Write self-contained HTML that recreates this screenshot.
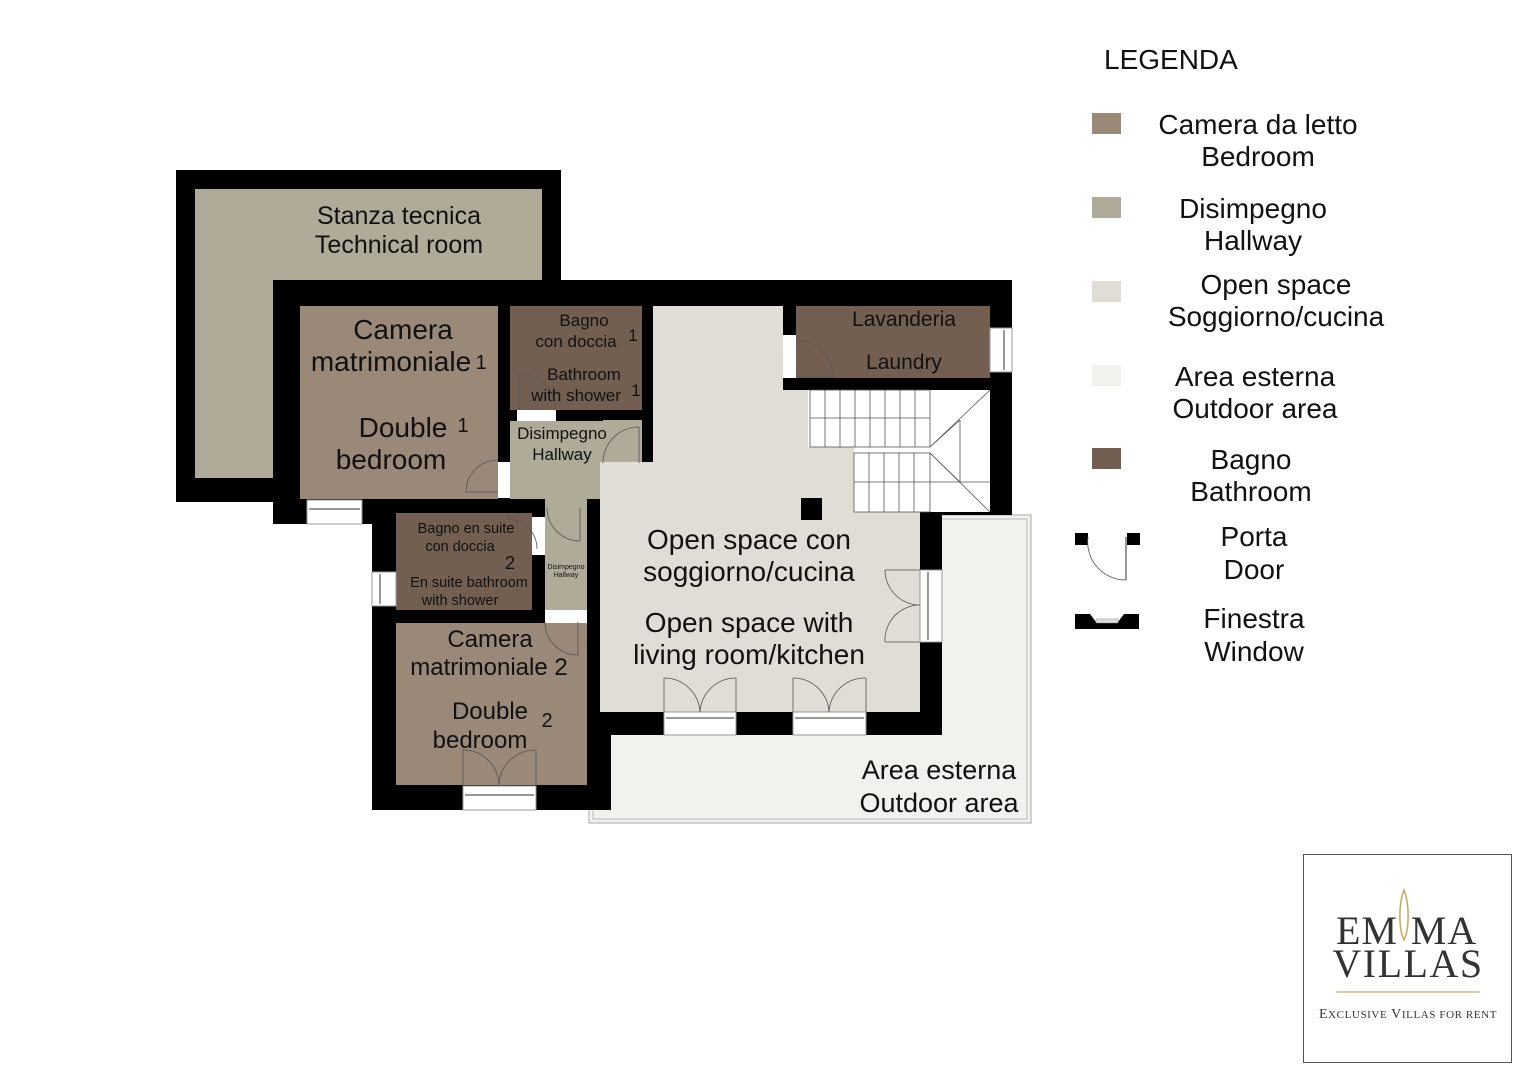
<!DOCTYPE html>
<html><head><meta charset="utf-8"><style>
html,body{margin:0;padding:0;background:#fff;}
body{width:1527px;height:1080px;position:relative;overflow:hidden;font-family:"Liberation Sans",sans-serif;}
svg text{font-family:"Liberation Sans",sans-serif;fill:#111;}
</style></head><body>
<svg width="1527" height="1080" viewBox="0 0 1527 1080" xmlns="http://www.w3.org/2000/svg">
<rect x="589" y="515" width="442" height="308" fill="#f2f1ee" stroke="#aaa" stroke-width="1"/>
<rect x="593" y="519" width="434" height="300" fill="none" stroke="#bbb" stroke-width="1"/>
<rect x="176" y="170" width="385" height="332" fill="#000"/>
<rect x="195" y="189" width="347" height="289" fill="#b0aa98"/>
<polygon points="273,280 1012,280 1012,515 942,515 942,735 611,735 611,810 372,810 372,524 273,524" fill="#000"/>
<rect x="300" y="306" width="198" height="193" fill="#9a8878"/>
<rect x="510" y="306" width="132" height="104" fill="#735f52"/>
<rect x="510" y="421" width="132" height="78" fill="#b0aa98"/>
<rect x="545" y="499" width="42" height="111" fill="#b0aa98"/>
<rect x="653" y="306" width="130" height="170" fill="#e0dcd6"/>
<rect x="600" y="462" width="320" height="250" fill="#e0dcd6"/>
<rect x="783" y="390" width="137" height="125" fill="#e0dcd6"/>
<rect x="808" y="390" width="182" height="122" fill="#fff"/>
<rect x="808" y="447" width="46" height="65" fill="#e0dcd6"/>
<rect x="796" y="306" width="194" height="72" fill="#735f52"/>
<rect x="396" y="513" width="136" height="97" fill="#735f52"/>
<rect x="396" y="623" width="191" height="162" fill="#9a8878"/>
<rect x="801" y="498" width="21" height="22" fill="#000"/>
<g stroke="#555" stroke-width="0.8" fill="none">
<rect x="810" y="390" width="120" height="57"/>
<line x1="810" y1="418" x2="930" y2="418"/>
<line x1="825" y1="390" x2="825" y2="447"/><line x1="840" y1="390" x2="840" y2="447"/><line x1="855" y1="390" x2="855" y2="447"/><line x1="870" y1="390" x2="870" y2="447"/><line x1="885" y1="390" x2="885" y2="447"/><line x1="900" y1="390" x2="900" y2="447"/><line x1="915" y1="390" x2="915" y2="447"/>
<rect x="854" y="453" width="76" height="59"/>
<line x1="854" y1="482" x2="990" y2="482"/>
<line x1="869" y1="453" x2="869" y2="512"/><line x1="884" y1="453" x2="884" y2="512"/><line x1="899" y1="453" x2="899" y2="512"/><line x1="914" y1="453" x2="914" y2="512"/>
<line x1="930" y1="447" x2="990" y2="390"/><line x1="930" y1="453" x2="990" y2="512"/>
<line x1="930" y1="447" x2="960" y2="420"/><line x1="960" y1="420" x2="960" y2="482"/><line x1="930" y1="453" x2="960" y2="482"/>
</g>
<g fill="#fff" stroke="#999" stroke-width="1">
<rect x="307" y="500" width="55" height="24"/>
<rect x="372" y="572" width="24" height="34"/>
<rect x="990" y="328" width="22" height="44"/>
<rect x="463" y="786" width="73" height="24"/>
<rect x="664" y="712" width="72" height="23"/>
<rect x="793" y="712" width="73" height="23"/>
<rect x="920" y="570" width="22" height="72"/>
</g>
<g stroke="#999" stroke-width="2">
<line x1="309" y1="509" x2="360" y2="509"/><line x1="465" y1="795" x2="534" y2="795"/>
<line x1="666" y1="718" x2="734" y2="718"/><line x1="795" y1="718" x2="864" y2="718"/>
<line x1="928" y1="572" x2="928" y2="640"/><line x1="1004" y1="330" x2="1004" y2="370"/><line x1="380" y1="574" x2="380" y2="604"/>
</g>
<g fill="#fff">
<rect x="517" y="410" width="39" height="11"/>
<rect x="498" y="462" width="12" height="36"/>
<rect x="783" y="335" width="13" height="43"/>
<rect x="532" y="517" width="13" height="38"/>
<rect x="545" y="610" width="42" height="13"/>
<rect x="603" y="420" width="39" height="11" fill="#b0aa98"/>
</g>
<g fill="none" stroke="#555" stroke-width="0.8">
<path d="M466,492 A32,32 0 0 1 498,460"/><line x1="466" y1="492" x2="498" y2="492"/>
<path d="M519,374 A37,37 0 0 1 556,411"/><line x1="519" y1="374" x2="519" y2="410"/>
<path d="M603,463 A36,36 0 0 1 639,427"/><line x1="639" y1="427" x2="639" y2="463"/>
<path d="M796,340 A37,37 0 0 1 833,377"/><line x1="796" y1="377" x2="833" y2="377"/>
<path d="M547,508 A33,33 0 0 0 580,541"/><line x1="580" y1="508" x2="580" y2="541"/>
<path d="M507,519 A30,30 0 0 1 537,549"/>
<path d="M545,622 A33,33 0 0 0 578,655"/><line x1="578" y1="622" x2="578" y2="655"/>
<path d="M664,678 L664,712 M664,678 A36,36 0 0 1 700,712 M736,678 L736,712 M736,678 A36,36 0 0 0 700,712"/>
<path d="M793,678 L793,712 M793,678 A36,36 0 0 1 829,712 M866,678 L866,712 M866,678 A36,36 0 0 0 829,712"/>
<path d="M463,750 L463,786 M463,750 A36,36 0 0 1 499,786 M536,750 L536,786 M536,750 A36,36 0 0 0 499,786"/>
<path d="M885,570 L920,570 M885,570 A35,35 0 0 0 920,605 M885,642 L920,642 M885,642 A35,35 0 0 1 920,605"/>
</g>
<g text-anchor="middle">
<text x="399" y="224" font-size="25">Stanza tecnica</text>
<text x="399" y="253" font-size="25">Technical room</text>
<text x="403" y="339" font-size="28">Camera</text>
<text x="391" y="371" font-size="28">matrimoniale</text>
<text x="481" y="369" font-size="20">1</text>
<text x="403" y="437" font-size="28">Double</text>
<text x="463" y="432" font-size="20">1</text>
<text x="391" y="469" font-size="28">bedroom</text>
<text x="584" y="326" font-size="17">Bagno</text>
<text x="576" y="347" font-size="17">con doccia</text>
<text x="633" y="341" font-size="17">1</text>
<text x="584" y="380" font-size="17">Bathroom</text>
<text x="576" y="401" font-size="17">with shower</text>
<text x="636" y="396" font-size="17">1</text>
<text x="562" y="439" font-size="17">Disimpegno</text>
<text x="562" y="460" font-size="17">Hallway</text>
<text x="466" y="533" font-size="14.5">Bagno en suite</text>
<text x="460" y="551" font-size="14.5">con doccia</text>
<text x="510" y="569" font-size="18">2</text>
<text x="469" y="587" font-size="14.5">En suite bathroom</text>
<text x="460" y="605" font-size="14.5">with shower</text>
<text x="566" y="569" font-size="7">Disimpegno</text>
<text x="566" y="577" font-size="7">Hallway</text>
<text x="490" y="647" font-size="24">Camera</text>
<text x="489" y="675" font-size="24">matrimoniale 2</text>
<text x="490" y="719" font-size="24">Double</text>
<text x="547" y="727" font-size="20">2</text>
<text x="480" y="748" font-size="24">bedroom</text>
<text x="749" y="549" font-size="28">Open space con</text>
<text x="749" y="581" font-size="28">soggiorno/cucina</text>
<text x="749" y="632" font-size="28">Open space with</text>
<text x="749" y="664" font-size="28">living room/kitchen</text>
<text x="904" y="326" font-size="21">Lavanderia</text>
<text x="904" y="369" font-size="21">Laundry</text>
<text x="939" y="779" font-size="27">Area esterna</text>
<text x="939" y="812" font-size="27">Outdoor area</text>
</g>
<text x="1104" y="69" font-size="28">LEGENDA</text>
<rect x="1092" y="113" width="29" height="21" fill="#9a8878"/>
<rect x="1092" y="197" width="29" height="21" fill="#b0aa98"/>
<rect x="1092" y="281" width="29" height="21" fill="#e0dcd6"/>
<rect x="1092" y="365" width="29" height="21" fill="#f2f1ee"/>
<rect x="1092" y="448" width="29" height="21" fill="#735f52"/>
<g text-anchor="middle" font-size="28">
<text x="1258" y="134">Camera da letto</text><text x="1258" y="166">Bedroom</text>
<text x="1253" y="218">Disimpegno</text><text x="1253" y="250">Hallway</text>
<text x="1276" y="294">Open space</text><text x="1276" y="326">Soggiorno/cucina</text>
<text x="1255" y="386">Area esterna</text><text x="1255" y="418">Outdoor area</text>
<text x="1251" y="469">Bagno</text><text x="1251" y="501">Bathroom</text>
<text x="1254" y="546">Porta</text><text x="1254" y="579">Door</text>
<text x="1254" y="628">Finestra</text><text x="1254" y="661">Window</text>
</g>
<rect x="1075" y="533" width="13" height="12" fill="#000"/>
<rect x="1127" y="533" width="13" height="12" fill="#000"/>
<path d="M1088,537 A38,38 0 0 0 1126,580" fill="none" stroke="#555" stroke-width="0.8"/>
<line x1="1126" y1="537" x2="1126" y2="580" stroke="#777" stroke-width="1.5"/>
<polygon points="1075,614 1090,614 1096,622 1118,622 1124,614 1139,614 1139,629 1075,629" fill="#000"/>
<rect x="1096" y="619" width="22" height="4" fill="#ddd" stroke="#888" stroke-width="0.5"/>
<rect x="1303.5" y="854.5" width="208" height="208" fill="#fff" stroke="#555" stroke-width="1"/>
<g text-anchor="middle">
<text x="1367" y="944" font-size="40" style="font-family:'Liberation Serif',serif;fill:#333" letter-spacing="1">EM</text>
<text x="1444" y="944" font-size="40" style="font-family:'Liberation Serif',serif;fill:#333" letter-spacing="1">MA</text>
<text x="1408" y="977" font-size="40" style="font-family:'Liberation Serif',serif;fill:#333" letter-spacing="1.5">VILLAS</text>
<text x="1408" y="1018" font-size="14" style="font-family:'Liberation Serif',serif;fill:#333" letter-spacing="0.6">E<tspan font-size="11">XCLUSIVE</tspan> V<tspan font-size="11">ILLAS FOR RENT</tspan></text>
</g>
<path d="M1404,890 C1398,905 1399,930 1404,940 C1409,930 1410,905 1404,890 Z" fill="none" stroke="#c8a95a" stroke-width="1.5"/>
<line x1="1336" y1="992" x2="1480" y2="992" stroke="#c8b98a" stroke-width="1.5"/>
</svg>
</body></html>
